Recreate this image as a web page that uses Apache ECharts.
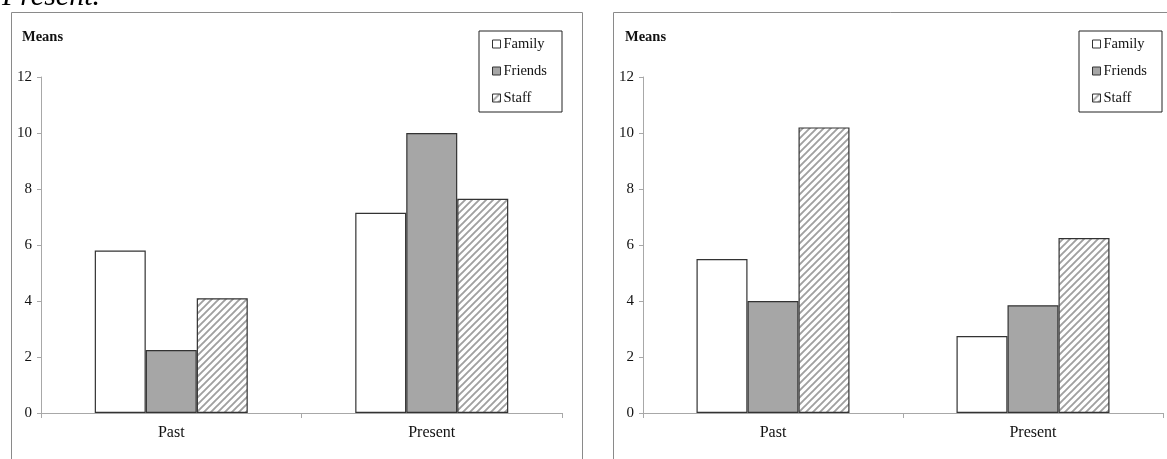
<!DOCTYPE html>
<html>
<head>
<meta charset="utf-8">
<script src="https://cdn.jsdelivr.net/npm/echarts@6/dist/echarts.min.js"></script>
<style>
html,body{margin:0;padding:0;background:#fff;}
#c{width:1167px;height:459px;}
</style>
</head>
<body>
<div id="c"></div>
<script>
const categories = ['Past', 'Present'];
const seriesNames = ['Family', 'Friends', 'Staff'];
const leftFamily = [5.8, 7.15];
const leftFriends = [2.25, 10.0];
const leftStaff = [4.1, 7.65];
const rightFamily = [5.5, 2.75];
const rightFriends = [4.0, 3.85];
const rightStaff = [10.2, 6.25];
const yTicks = [0, 2, 4, 6, 8, 10, 12];

const FONT = '"Liberation Serif", "DejaVu Serif", serif';

function hatch() {
  const s = 7;
  const cv = document.createElement('canvas');
  cv.width = s; cv.height = s;
  const ctx = cv.getContext('2d');
  ctx.fillStyle = '#fff';
  ctx.fillRect(0, 0, s, s);
  ctx.strokeStyle = '#a0a0a0';
  ctx.lineWidth = 1.9;
  ctx.beginPath();
  ctx.moveTo(-1, s + 1); ctx.lineTo(s + 1, -1);
  ctx.moveTo(-1, 1); ctx.lineTo(1, -1);
  ctx.moveTo(s - 1, s + 1); ctx.lineTo(s + 1, s - 1);
  ctx.stroke();
  return {image: cv, repeat: 'repeat'};
}
const hatchFill = hatch();

const fills = {Family: '#ffffff', Friends: '#a6a6a6', Staff: hatchFill};

function yAxis(gi) {
  return {
    type: 'value', gridIndex: gi, min: 0, max: 12, interval: 2,
    splitLine: {show: false},
    axisLine: {show: true, lineStyle: {color: '#a8a8a8', width: 1}},
    axisTick: {show: true, length: 4, lineStyle: {color: '#a8a8a8'}},
    axisLabel: {fontFamily: FONT, fontSize: 15, color: '#111', margin: 9,
      formatter: v => yTicks.includes(v) ? String(v) : ''}
  };
}
function xAxis(gi) {
  return {
    type: 'category', gridIndex: gi, data: categories,
    axisLine: {show: true, lineStyle: {color: '#a8a8a8', width: 1}},
    axisTick: {show: true, length: 5, lineStyle: {color: '#a8a8a8'}},
    axisLabel: {fontFamily: FONT, fontSize: 16, color: '#111', margin: 12}
  };
}
function bars(gi, arrs) {
  return seriesNames.map((n, i) => ({
    name: n, type: 'bar', xAxisIndex: gi, yAxisIndex: gi,
    data: arrs[i], barWidth: 51, barGap: '0%',
    itemStyle: {color: fills[n], borderColor: '#333', borderWidth: 1.2},
    emphasis: {disabled: true}
  }));
}
function legend(left) {
  return {
    orient: 'vertical', left: left, top: 31,
    data: seriesNames,
    itemWidth: 8, itemHeight: 8, itemGap: 11,
    icon: 'rect',
    padding: [5, 15, 6, 13],
    borderColor: '#222', borderWidth: 1,
    textStyle: {fontFamily: FONT, fontSize: 14.5, color: '#111', lineHeight: 16, padding: [0, 0, 0, -2]},
    itemStyle: {borderColor: '#333', borderWidth: 1},
    selectedMode: false
  };
}

const chart = echarts.init(document.getElementById('c'), null, {renderer: 'canvas'});
chart.setOption({
  animation: false,
  backgroundColor: '#fff',
  grid: [
    {left: 41, top: 77, width: 521, height: 336},
    {left: 643, top: 77, width: 520, height: 336}
  ],
  xAxis: [xAxis(0), xAxis(1)],
  yAxis: [yAxis(0), yAxis(1)],
  legend: [legend(479), legend(1079)],
  series: [...bars(0, [leftFamily, leftFriends, leftStaff]), ...bars(1, [rightFamily, rightFriends, rightStaff])],
  graphic: [
    {type: 'rect', shape: {x: 11.5, y: 12.5, width: 571, height: 470}, style: {fill: 'none', stroke: '#8a8a8a', lineWidth: 1}, z: -1},
    {type: 'rect', shape: {x: 613.5, y: 12.5, width: 600, height: 470}, style: {fill: 'none', stroke: '#8a8a8a', lineWidth: 1}, z: -1},
    {type: 'text', x: 22, y: 30, style: {text: 'Means', font: 'bold 14.5px ' + FONT, fill: '#111'}},
    {type: 'text', x: 625, y: 30, style: {text: 'Means', font: 'bold 14.5px ' + FONT, fill: '#111'}},
    {type: 'text', x: 100, y: 12, style: {text: 'Present.', font: 'italic 30px ' + FONT, fill: '#000', textAlign: 'right', textVerticalAlign: 'bottom'}}
  ]
});
</script>
</body>
</html>
